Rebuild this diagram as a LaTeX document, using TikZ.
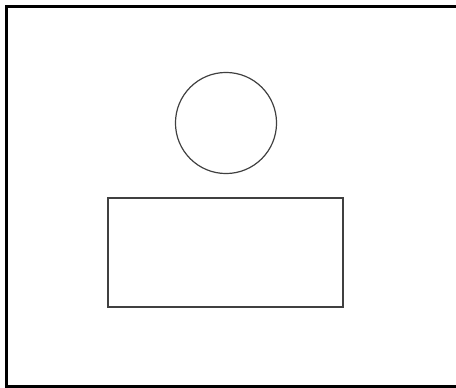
\documentclass[tikz,border=0pt]{standalone}
\usetikzlibrary{positioning}

\begin{document}
\begin{tikzpicture}[
    x=0.75pt, y=-0.75pt,
    frame/.style={draw=black, line width=2.4pt},
    shapeline/.style={draw=black!75, line width=0.9pt},
    ball/.style={circle, shapeline, inner sep=0pt, minimum size=75.8pt},
    box/.style={rectangle, shapeline, inner sep=0pt,
        minimum width=176.3pt, minimum height=81.8pt}
]
\useasboundingbox (0,0) rectangle (456,388);

% Outer frame (right side runs off the page)
\draw[frame] (470,6.5) -- (6.5,6.5) -- (6.5,386.5) -- (470,386.5);

% Circle
\node[ball] (head) at (226,123) {};

% Rectangle below
\node[box] (body) at (225.5,252.5) {};

\end{tikzpicture}
\end{document}
